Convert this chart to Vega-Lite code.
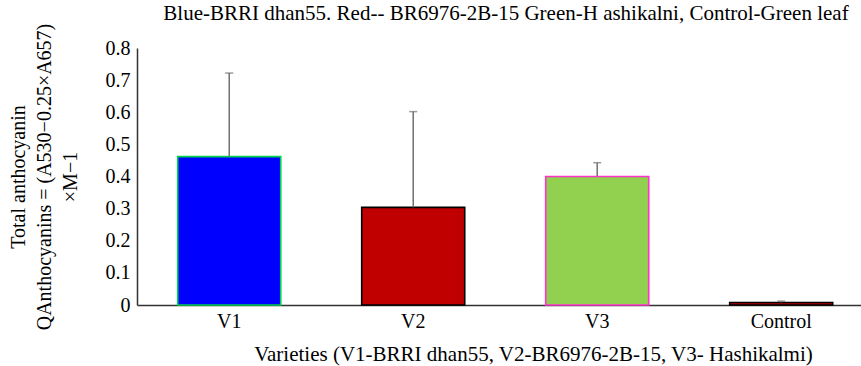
{
  "$schema": "https://vega.github.io/schema/vega-lite/v6.json",
  "width": 724,
  "height": 257,
  "autosize": {"type": "none"},
  "padding": {"left": 137, "top": 48, "right": 0, "bottom": 61},
  "background": "white",
  "title": {
    "text": "Blue-BRRI dhan55. Red-- BR6976-2B-15 Green-H ashikalni, Control-Green leaf",
    "font": "Liberation Serif",
    "fontSize": 21,
    "fontWeight": "normal",
    "color": "black",
    "anchor": "middle",
    "dx": 7,
    "offset": -1
  },
  "config": {
    "view": {"stroke": null},
    "axis": {
      "grid": false,
      "ticks": false,
      "domainColor": "#333333",
      "domainWidth": 1.5,
      "labelFont": "Liberation Serif",
      "labelFontSize": 20,
      "labelColor": "black",
      "titleFont": "Liberation Serif",
      "titleFontSize": 21,
      "titleFontWeight": "normal",
      "titleColor": "black"
    }
  },
  "data": {
    "values": [
      {"variety": "V1", "value": 0.462, "upper": 0.722},
      {"variety": "V2", "value": 0.304, "upper": 0.602},
      {"variety": "V3", "value": 0.400, "upper": 0.443},
      {"variety": "Control", "value": 0.008, "upper": 0.012}
    ]
  },
  "layer": [
    {
      "mark": {"type": "bar", "strokeWidth": 1.6},
      "encoding": {
        "x": {
          "field": "variety",
          "type": "nominal",
          "sort": ["V1", "V2", "V3", "Control"],
          "scale": {"paddingInner": 0.44, "paddingOuter": 0.1875, "align": 0.59},
          "axis": {
            "labelAngle": 0,
            "labelPadding": 6,
            "title": "Varieties (V1-BRRI dhan55, V2-BR6976-2B-15, V3- Hashikalmi)",
            "titlePadding": 12,
            "titleX": 396,
            "titleAlign": "center"
          }
        },
        "y": {
          "field": "value",
          "type": "quantitative",
          "scale": {"domain": [0, 0.8], "nice": false},
          "axis": {
            "tickCount": 9,
            "tickMinStep": 0.1,
            "labelExpr": "datum.value == 0 ? '0' : format(datum.value, '.1f')",
            "labelOverlap": false,
            "labelFont": "Liberation Serif",
            "labelFontSize": 20,
            "labelPadding": 7,
            "title": ["Total anthocyanin", "QAnthocyanins = (A530\u22120.25\u00d7A657)", "\u00d7M\u22121"],
            "titleFontSize": 20,
            "titleLineHeight": 26,
            "titlePadding": 25
          }
        },
        "fill": {
          "field": "variety",
          "type": "nominal",
          "scale": {"domain": ["V1", "V2", "V3", "Control"], "range": ["#0000FF", "#C00000", "#92D050", "#C00000"]},
          "legend": null
        },
        "stroke": {
          "field": "variety",
          "type": "nominal",
          "scale": {"domain": ["V1", "V2", "V3", "Control"], "range": ["#00D050", "#000000", "#FF33CC", "#000000"]},
          "legend": null
        }
      }
    },
    {
      "mark": {"type": "rule", "color": "#707070", "strokeWidth": 1.5},
      "encoding": {
        "x": {"field": "variety", "type": "nominal", "sort": ["V1", "V2", "V3", "Control"]},
        "y": {"field": "value", "type": "quantitative"},
        "y2": {"field": "upper"}
      }
    },
    {
      "mark": {"type": "tick", "color": "#707070", "size": 8, "thickness": 1.5, "orient": "horizontal"},
      "encoding": {
        "x": {"field": "variety", "type": "nominal", "sort": ["V1", "V2", "V3", "Control"]},
        "y": {"field": "upper", "type": "quantitative"}
      }
    }
  ]
}
